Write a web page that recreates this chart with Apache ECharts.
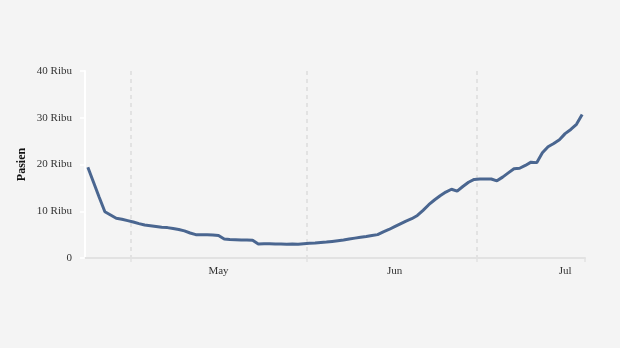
<!DOCTYPE html>
<html>
<head>
<meta charset="utf-8">
<script src="https://cdn.jsdelivr.net/npm/echarts@6/dist/echarts.min.js"></script>
<style>
  html, body { margin: 0; padding: 0; background: #f4f4f4; }
  #chart { width: 620px; height: 348px; }
</style>
</head>
<body>
<div id="chart"></div>
<script>
// Daily series, 23 Apr - 19 Jul
const startDate = '2022-04-23';
const dayCount = 88;

// Patients under treatment (thousands)
const patients = [
  19.4, 16.2, 13.0, 9.9, 9.2, 8.5, 8.3, 8.0, 7.7, 7.35,
  7.05, 6.9, 6.75, 6.6, 6.5, 6.3, 6.1, 5.8, 5.35, 5.0,
  5.0, 4.95, 4.9, 4.8, 4.05, 3.95, 3.9, 3.85, 3.85, 3.8,
  3.0, 3.05, 3.05, 3.0, 3.0, 2.95, 3.0, 2.95, 3.05, 3.15,
  3.2, 3.3, 3.4, 3.55, 3.7, 3.85, 4.05, 4.25, 4.45, 4.6,
  4.8, 5.0, 5.6, 6.1, 6.7, 7.3, 7.9, 8.4, 9.1, 10.2,
  11.4, 12.4, 13.3, 14.1, 14.7, 14.3, 15.3, 16.2, 16.8, 16.9,
  16.9, 16.9, 16.5, 17.3, 18.2, 19.1, 19.2, 19.8, 20.5, 20.4,
  22.5, 23.8, 24.5, 25.3, 26.6, 27.5, 28.6, 30.7
];

// Month labels sit mid-month; dashed guides mark the 1st of each month
const monthLabels = { '2022-05-16': 'May', '2022-06-16': 'Jun', '2022-07-16': 'Jul' };
const monthStarts = ['2022-05-01', '2022-06-01', '2022-07-01'];
const yTickLabels = ['0', '10 Ribu', '20 Ribu', '30 Ribu', '40 Ribu'];

const dates = [];
{
  const d = new Date(startDate + 'T00:00:00Z');
  for (let i = 0; i < dayCount; i++) {
    dates.push(d.toISOString().slice(0, 10));
    d.setUTCDate(d.getUTCDate() + 1);
  }
}

const font = '"Liberation Serif", "DejaVu Serif", serif';
const chart = echarts.init(document.getElementById('chart'), null, { renderer: 'canvas' });

chart.setOption({
  backgroundColor: '#f4f4f4',
  animation: false,
  grid: { left: 85, right: 35, top: 71, bottom: 90 },
  xAxis: {
    type: 'category',
    data: dates,
    boundaryGap: true,
    axisLine: { lineStyle: { color: '#e2e2e2', width: 2 } },
    axisTick: {
      show: true,
      length: 4,
      interval: (i, v) => monthStarts.includes(v),
      lineStyle: { color: '#e2e2e2', width: 1.5 }
    },
    axisLabel: {
      interval: (i, v) => v in monthLabels,
      formatter: v => monthLabels[v] || '',
      margin: 8,
      color: '#333',
      fontFamily: font,
      fontSize: 11
    },
    splitLine: {
      show: true,
      showMaxLine: false,
      interval: (i, v) => monthStarts.includes(v),
      lineStyle: { color: '#dcdcdc', width: 1.5, type: [4, 4] }
    }
  },
  yAxis: {
    type: 'value',
    min: 0,
    max: 40,
    interval: 10,
    name: 'Pasien',
    nameLocation: 'middle',
    nameGap: 57,
    nameMoveOverlap: false,
    nameTextStyle: { fontFamily: font, fontSize: 12, fontWeight: 'bold', color: '#111' },
    axisLine: { show: true, lineStyle: { color: '#ffffff', width: 2 } },
    axisTick: { show: true, length: 5, lineStyle: { color: '#ffffff', width: 1.5 } },
    axisLabel: {
      margin: 13,
      color: '#333',
      fontFamily: font,
      fontSize: 11,
      formatter: v => yTickLabels[v / 10]
    },
    splitLine: { show: false }
  },
  series: [{
    type: 'line',
    data: patients,
    showSymbol: false,
    symbol: 'none',
    lineStyle: { color: '#4a6690', width: 3 },
    itemStyle: { color: '#4a6690' }
  }]
});
</script>
</body>
</html>
